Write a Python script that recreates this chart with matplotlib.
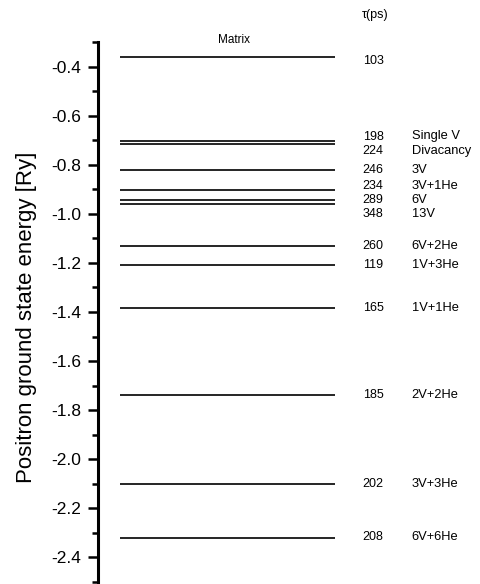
import matplotlib
matplotlib.use("Agg")
import matplotlib.pyplot as plt
from matplotlib.ticker import MultipleLocator

plt.rcParams['font.family'] = ['Liberation Sans', 'DejaVu Sans']

# Data
energies = [-0.363, -0.704, -0.716, -0.823, -0.901, -0.942, -0.958,
            -1.132, -1.210, -1.382, -1.740, -2.099, -2.320]
lifetimes = ["103", "198", "224", "246", "234", "289", "348",
             "260", "119", "165", "185", "202", "208"]
defects = ["", "Single V", "Divacancy", "3V", "3V+1He", "6V", "13V",
           "6V+2He", "1V+3He", "1V+1He", "2V+2He", "3V+3He", "6V+6He"]
# label vertical positions (spread apart where lines crowd together)
label_y = [-0.376, -0.685, -0.744, -0.823, -0.885, -0.942, -0.999,
           -1.133, -1.210, -1.385, -1.737, -2.100, -2.317]

W, H = 481, 584
fig = plt.figure(figsize=(W / 100, H / 100), dpi=100)
left_px, top_px, bot_px = 98, 42, 582
ax = fig.add_axes([left_px / W, 1 - bot_px / H, 1 - left_px / W, (bot_px - top_px) / H])
ax.set_xlim(0, 1)
ax.set_ylim(-2.5, -0.3)

x0, x1 = 0.0574, 0.619
ax.hlines(energies, x0, x1, colors='black', linewidth=1.2)

for y, t, d in zip(label_y, lifetimes, defects):
    ax.text(0.691, y, t, fontsize=9, va='center', ha='left', clip_on=False)
    if d:
        ax.text(0.819, y, d, fontsize=9.3, va='center', ha='left', clip_on=False)

ax.text(0.689, -0.191, "τ(ps)", fontsize=9, va='center', ha='left', clip_on=False)
ax.text(0.355, -0.29, "Matrix", fontsize=8.5, va='center', ha='center', clip_on=False)

for s in ['top', 'right', 'bottom']:
    ax.spines[s].set_visible(False)
ax.spines['left'].set_linewidth(2.2)
ax.set_xticks([])
ax.yaxis.set_major_locator(MultipleLocator(0.2))
ax.yaxis.set_minor_locator(MultipleLocator(0.1))
ax.tick_params(axis='y', which='major', direction='out', length=7, width=1.8,
               labelsize=12.5, pad=5)
ax.tick_params(axis='y', which='minor', direction='out', length=4, width=1.8)
ax.set_yticks([-2.4, -2.2, -2.0, -1.8, -1.6, -1.4, -1.2, -1.0, -0.8, -0.6, -0.4])
ax.set_yticklabels(["-2.4", "-2.2", "-2.0", "-1.8", "-1.6", "-1.4", "-1.2",
                    "-1.0", "-0.8", "-0.6", "-0.4"])
ax.set_ylabel("Positron ground state energy [Ry]", fontsize=16)
ax.yaxis.set_label_coords(-0.159, 0.49)
ax.patch.set_visible(False)

fig.savefig("out.png", dpi=100)
